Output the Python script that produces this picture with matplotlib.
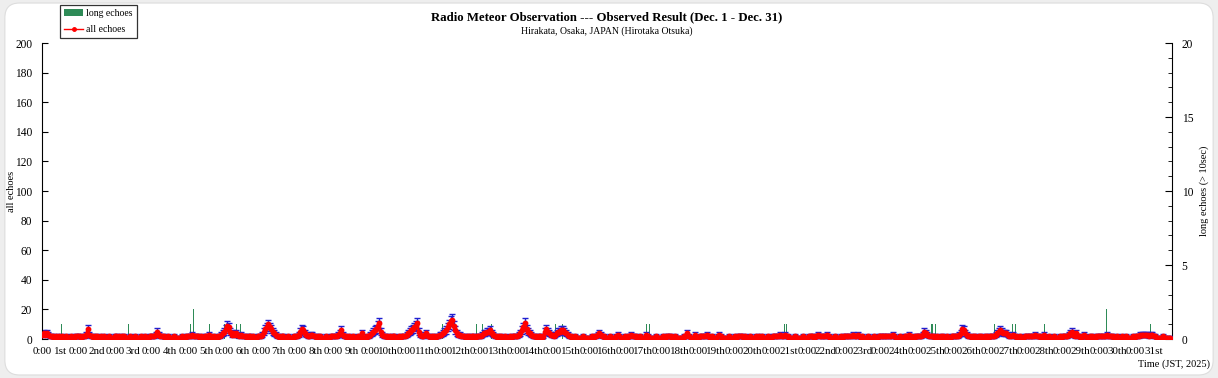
import numpy as np
import matplotlib
matplotlib.use("Agg")
import matplotlib.pyplot as plt
from matplotlib.patches import FancyBboxPatch, Patch
from matplotlib.lines import Line2D

# ---------------- data (hourly counts, Dec 1 0:00 .. Dec 31 23:00) ----------------
all_echoes = [
    3,4,3,4,3,2,2,2,1,2,1,2,1,2,1,1,2,1,1,2,1,1,2,2,        # 1
    2,2,1,2,2,3,7,3,2,2,1,2,2,1,1,2,1,2,1,1,2,1,1,1,        # 2
    2,2,1,2,1,2,2,1,1,1,2,1,1,2,1,1,1,2,1,1,2,1,1,2,        # 3
    2,2,2,3,5,3,2,2,2,1,1,2,1,1,1,2,1,1,1,1,2,1,1,2,        # 4
    2,2,2,3,2,2,2,2,1,2,1,2,2,1,3,2,1,2,1,1,2,2,3,4,        # 5
    5,7,9,8,5,3,4,3,4,3,2,3,2,2,2,1,2,2,1,2,1,1,2,2,        # 6
    2,3,5,7,8,10,8,7,5,4,3,2,2,1,2,2,1,1,2,1,1,1,2,2,       # 7
    2,3,5,7,6,4,3,2,2,3,3,2,2,1,2,2,1,1,1,2,1,1,2,2,        # 8
    2,2,2,3,4,6,3,2,2,1,2,1,1,2,1,1,2,1,2,4,1,1,2,2,        # 9
    3,4,5,6,7,9,11,5,3,2,2,2,1,2,1,2,2,1,1,2,1,2,2,2,       # 10
    3,4,5,6,7,8,9,11,5,3,2,2,3,4,2,2,1,2,2,1,2,2,3,3,       # 11
    4,5,6,8,10,12,13,9,6,4,3,3,2,2,2,1,2,2,1,2,2,1,2,2,     # 12
    2,2,3,4,4,5,5,6,4,3,2,2,1,2,2,1,1,2,1,1,2,1,2,2,        # 13
    2,2,3,4,6,8,11,7,5,4,3,2,2,2,1,2,2,1,2,5,7,5,4,3,       # 14
    3,2,3,4,5,5,6,6,5,4,3,2,2,1,1,2,1,1,1,1,2,1,1,1,        # 15
    1,1,2,1,2,2,3,4,3,2,2,1,1,1,2,1,1,1,2,3,2,1,1,1,        # 16
    2,1,2,2,3,2,2,2,1,1,2,1,1,1,3,2,1,1,1,1,2,1,1,1,        # 17
    1,2,1,2,2,2,2,1,1,2,1,1,1,1,1,2,2,4,2,1,1,1,3,1,        # 18
    1,2,2,2,2,2,3,2,1,2,1,1,1,2,3,2,1,1,1,1,2,1,1,1,        # 19
    2,1,2,2,2,2,1,2,1,1,2,1,1,1,2,1,2,1,2,1,1,1,2,1,        # 20
    1,2,2,2,2,2,3,2,2,3,2,2,1,1,1,1,2,1,1,1,1,2,1,1,        # 21
    1,2,2,2,1,2,2,3,2,2,2,2,2,3,2,1,1,1,2,1,1,1,2,1,        # 22
    2,2,2,2,2,2,3,2,2,3,2,1,2,1,1,1,2,1,1,1,2,1,1,2,        # 23
    2,2,2,2,2,2,2,2,3,2,1,1,1,2,1,1,2,2,1,3,2,1,1,2,        # 24
    2,2,2,2,3,5,4,3,2,2,2,2,1,2,1,1,2,2,1,1,2,1,1,2,        # 25
    2,2,2,2,3,4,7,6,4,3,2,2,1,2,2,1,1,2,2,1,1,2,2,1,        # 26
    2,2,2,2,3,4,5,6,5,4,4,4,3,2,2,3,2,2,1,1,2,1,1,2,        # 27
    2,2,2,2,2,2,3,2,2,2,1,2,3,1,1,2,1,1,2,1,1,1,2,1,        # 28
    2,2,2,2,3,4,5,3,2,4,2,2,1,2,3,2,1,1,2,2,1,1,2,2,        # 29
    2,2,2,2,2,3,2,2,2,2,1,1,2,1,1,2,1,1,2,1,1,1,2,1,        # 30
    2,2,2,3,3,3,3,3,3,2,3,3,2,2,1,1,1,1,2,1,1,1,1,1,        # 31
]
long_echo_hours = [13, 57, 98, 100, 110, 120, 128, 131, 264, 286, 290, 296,
                   338, 343, 398, 400, 489, 490, 586, 588, 627, 639, 641, 660, 701, 730]
long_echo_counts = [1, 1, 1, 2, 1, 1, 1, 1, 1, 1, 1, 1,
                    1, 1, 1, 1, 1, 1, 1, 1, 1, 1, 1, 1, 2, 1]
day_names = ["1st", "2nd", "3rd"] + [f"{d}th" for d in range(4, 21)] + \
            ["21st", "22nd", "23rd"] + [f"{d}th" for d in range(24, 31)] + ["31st"]

# ---------------- figure ----------------
plt.rcParams['font.family'] = ['Liberation Serif', 'DejaVu Serif']
W, H = 1218, 378
fig = plt.figure(figsize=(W / 100, H / 100), dpi=100, facecolor='#eeeeee')
bg = FancyBboxPatch((0.004, 0.008), 0.992, 0.984, boxstyle="round,pad=0,rounding_size=0.012",
                    transform=fig.transFigure, facecolor='white', edgecolor='#dddddd',
                    linewidth=0.8, zorder=-10, mutation_aspect=W / H)
fig.patches.append(bg)

ax = fig.add_axes([42 / W, 1 - 339 / H, (1172 - 42) / W, (339 - 43) / H])
ax2 = ax.twinx()
ax.set_zorder(2)
ax.patch.set_visible(False)
ax2.set_zorder(1)

hours = np.arange(len(all_echoes))
vals = np.array(all_echoes, dtype=float)

# long echoes bars (right axis)
ax2.bar(long_echo_hours, long_echo_counts, width=0.7, color='#2e8b57', edgecolor='none')
ax2.set_ylim(0, 20)
ax2.set_yticks([0, 5, 10, 15, 20])
ax2.set_yticks(np.arange(0, 21, 1), minor=True)

# all echoes with error bars
ax.errorbar(hours, vals, yerr=np.sqrt(vals), fmt='none', ecolor='#1f1fd0',
            elinewidth=1.0, capsize=2.5, capthick=1.0, zorder=2)
ax.plot(hours, vals, color='#ff0000', lw=1.6, marker='o', ms=3.2, zorder=3)

ax.set_xlim(0, len(all_echoes))
ax.set_ylim(0, 200)
ax.set_yticks(np.arange(0, 201, 20))

ax.set_xticks(np.arange(0, len(all_echoes), 24))
ax.set_xticklabels(["0:00"] * 31)
ax.set_xticks(np.arange(12, len(all_echoes), 24), minor=True)
ax.set_xticklabels(day_names, minor=True)
ax.tick_params(axis='x', which='both', length=0, pad=6, labelsize=7.9)

ax.tick_params(axis='y', which='major', direction='in', length=4, labelsize=8.3, pad=7)
ax2.tick_params(axis='y', which='major', direction='in', length=5, labelsize=8.3, pad=7)
ax2.tick_params(axis='y', which='minor', direction='in', length=3)

for a in (ax, ax2):
    a.spines['top'].set_visible(False)
    a.spines['bottom'].set_visible(False)
ax.spines['right'].set_visible(False)
ax2.spines['left'].set_visible(False)

ax.set_ylabel("all echoes", fontsize=7.5)
ax.yaxis.set_label_coords((16 - 42) / (1172 - 42), 0.5)
ax2.set_ylabel("long echoes (> 10sec)", fontsize=7.5, rotation=90)
ax2.yaxis.set_label_coords((1199 - 42) / (1172 - 42), 0.5)

fig.text(607 / W, 1 - 17 / H, "Radio Meteor Observation --- Observed Result (Dec. 1 - Dec. 31)",
         ha='center', va='center', fontsize=9.2, fontweight='bold')
fig.text(607 / W, 1 - 31 / H, "Hirakata, Osaka, JAPAN (Hirotaka Otsuka)",
         ha='center', va='center', fontsize=7)
fig.text(1210 / W, 1 - 364 / H, "Time (JST, 2025)", ha='right', va='center', fontsize=7.5)

handles = [Patch(facecolor='#2e8b57', edgecolor='none', label='long echoes'),
           Line2D([0], [0], color='#ff0000', lw=1, marker='o', ms=2.5, label='all echoes')]
leg = fig.legend(handles=handles, loc='upper left', bbox_to_anchor=(60 / W, 1 - 5 / H),
                 fontsize=7, frameon=True, fancybox=False, edgecolor='black',
                 borderpad=0.4, labelspacing=0.75, handlelength=2.0, handleheight=0.6,
                 handletextpad=0.3, borderaxespad=0)
leg.get_frame().set_linewidth(0.9)

fig.savefig("out.png", dpi=100, facecolor=fig.get_facecolor())
